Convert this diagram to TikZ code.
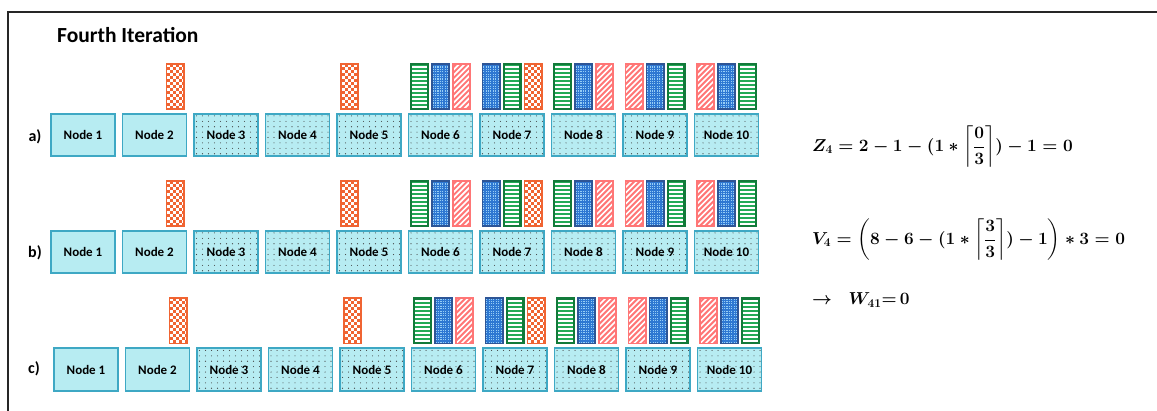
\documentclass[tikz,border=0pt]{standalone}
\usepackage{fontspec}
\setmainfont{Carlito}
\usepackage{amsmath,bm}
\definecolor{nodeF}{RGB}{183,236,242}
\definecolor{nodeB}{RGB}{62,168,196}
\definecolor{orC}{RGB}{240,100,50}
\definecolor{greenD}{RGB}{18,122,58}
\definecolor{greenL}{RGB}{34,170,86}
\definecolor{blueD}{RGB}{45,85,150}
\definecolor{blueM}{RGB}{46,120,210}
\definecolor{blueDot}{RGB}{150,205,245}
\definecolor{pinkC}{RGB}{255,118,118}
\tikzset{
  nodebase/.style={draw=nodeB, line width=1.6pt, fill=nodeF, minimum width=64pt, minimum height=42.5pt,
    inner sep=0pt, font=\bfseries\fontsize{13}{15}\selectfont},
  nodeplain/.style={nodebase},
  nodedot/.style={nodebase, path picture={
    \foreach \j in {0,...,7} \foreach \i in {0,...,10}
      \fill[black!75] ([shift={(\i*6+2.5,\j*5.4+2.5)}]path picture bounding box.south west) circle (0.55);}},
  barbase/.style={line width=#1, minimum width={19pt-#1}, minimum height={47pt-#1}, inner sep=0pt, anchor=south, yshift=3pt},
  orangebar/.style={barbase=1.8pt, draw=orC, fill=orC, path picture={
    \foreach \j in {0,...,16} \foreach \i in {0,1,2}
      \fill[white] ([shift={({\i*6+mod(\j,2)*3+0.8},{\j*3+0.5})}]path picture bounding box.south west) rectangle ++(3,3);}},
  greenbar/.style={barbase=2.4pt, draw=greenD, fill=greenL, path picture={
    \foreach \i in {0,...,12}
      \fill[white] ([yshift=\i*4pt+1.2pt]path picture bounding box.south west) rectangle ++(20,1.8);}},
  bluebar/.style={barbase=1.8pt, draw=blueD, fill=blueM, path picture={
    \foreach \j in {0,...,19} \foreach \i in {0,...,7}
      \fill[blueDot] ([shift={(\i*2.4+0.7,\j*2.4+0.7)}]path picture bounding box.south west) rectangle ++(1.1,1.1);}},
  pinkbar/.style={barbase=1.8pt, draw=pinkC, fill=pinkC, path picture={
    \foreach \i in {-10,...,4}
      \draw[white, line width=1.7pt] ([xshift=\i*5.5pt]path picture bounding box.south west) -- ++(60,60);}},
  rowlabel/.style={font=\bfseries\fontsize{16}{18}\selectfont, inner sep=0pt},
  eq/.style={anchor=west, inner sep=0pt, font=\fontsize{17.5}{20}\selectfont\boldmath}
}
\begin{document}
\begin{tikzpicture}[x=1pt,y=1pt]
\useasboundingbox (0,0) rectangle (1157,-411);
\draw[line width=1.3pt, black!85] (8,-411) -- (8,-12) -- (1157,-12);
\node[anchor=west, inner sep=0pt, font=\bfseries\fontsize{21.5}{24}\selectfont] (title) at (57,-35) {Fourth Iteration};
\foreach \r/\yy/\xo in {a/135/83, b/252/83, c/369.5/86} {
  \foreach \k in {1,2} {
    \pgfmathsetmacro\xx{\xo+71.5*(\k-1)}
    \node[nodeplain] (\r\k) at (\xx,-\yy) {Node \k};
  }
  \foreach \k in {3,...,10} {
    \pgfmathsetmacro\xx{\xo+71.5*(\k-1)}
    \node[nodedot] (\r\k) at (\xx,-\yy) {Node \k};
  }
  \node[orangebar, xshift=20.5pt] (\r2x) at (\r2.north) {};
  \node[orangebar, xshift=-19.5pt] (\r5x) at (\r5.north) {};
  \node[greenbar, xshift=-21pt] (\r6x) at (\r6.north) {};
  \node[bluebar] (\r6y) at (\r6.north) {};
  \node[pinkbar, xshift=21pt] (\r6z) at (\r6.north) {};
  \node[bluebar, xshift=-21pt] (\r7x) at (\r7.north) {};
  \node[greenbar] (\r7y) at (\r7.north) {};
  \node[orangebar, xshift=21pt] (\r7z) at (\r7.north) {};
  \node[greenbar, xshift=-21pt] (\r8x) at (\r8.north) {};
  \node[bluebar] (\r8y) at (\r8.north) {};
  \node[pinkbar, xshift=21pt] (\r8z) at (\r8.north) {};
  \node[pinkbar, xshift=-21pt] (\r9x) at (\r9.north) {};
  \node[bluebar] (\r9y) at (\r9.north) {};
  \node[greenbar, xshift=21pt] (\r9z) at (\r9.north) {};
  \node[pinkbar, xshift=-21pt] (\r10x) at (\r10.north) {};
  \node[bluebar] (\r10y) at (\r10.north) {};
  \node[greenbar, xshift=21pt] (\r10z) at (\r10.north) {};
}
\node[rowlabel] (la) at (35,-137) {a)};
\node[rowlabel] (lb) at (35,-253) {b)};
\node[rowlabel] (lc) at (34,-369) {c)};
\node[eq] (z4) at (812,-147) {$\bm{Z_4} = \mathbf{2} - \mathbf{1} - (\mathbf{1} \ast \left\lceil\dfrac{\mathbf{0}}{\mathbf{3}}\right\rceil) - \mathbf{1} = \mathbf{0}$};
\node[eq] (v4) at (812,-240) {$\bm{V_4} = \left(\mathbf{8} - \mathbf{6} - (\mathbf{1} \ast \left\lceil\dfrac{\mathbf{3}}{\mathbf{3}}\right\rceil) - \mathbf{1}\right) \ast \mathbf{3} = \mathbf{0}$};
\node[eq] (w41) at (812,-300) {$\rightarrow\;\; \bm{W_{41}}{=}\,\mathbf{0}$};
\end{tikzpicture}
\end{document}
